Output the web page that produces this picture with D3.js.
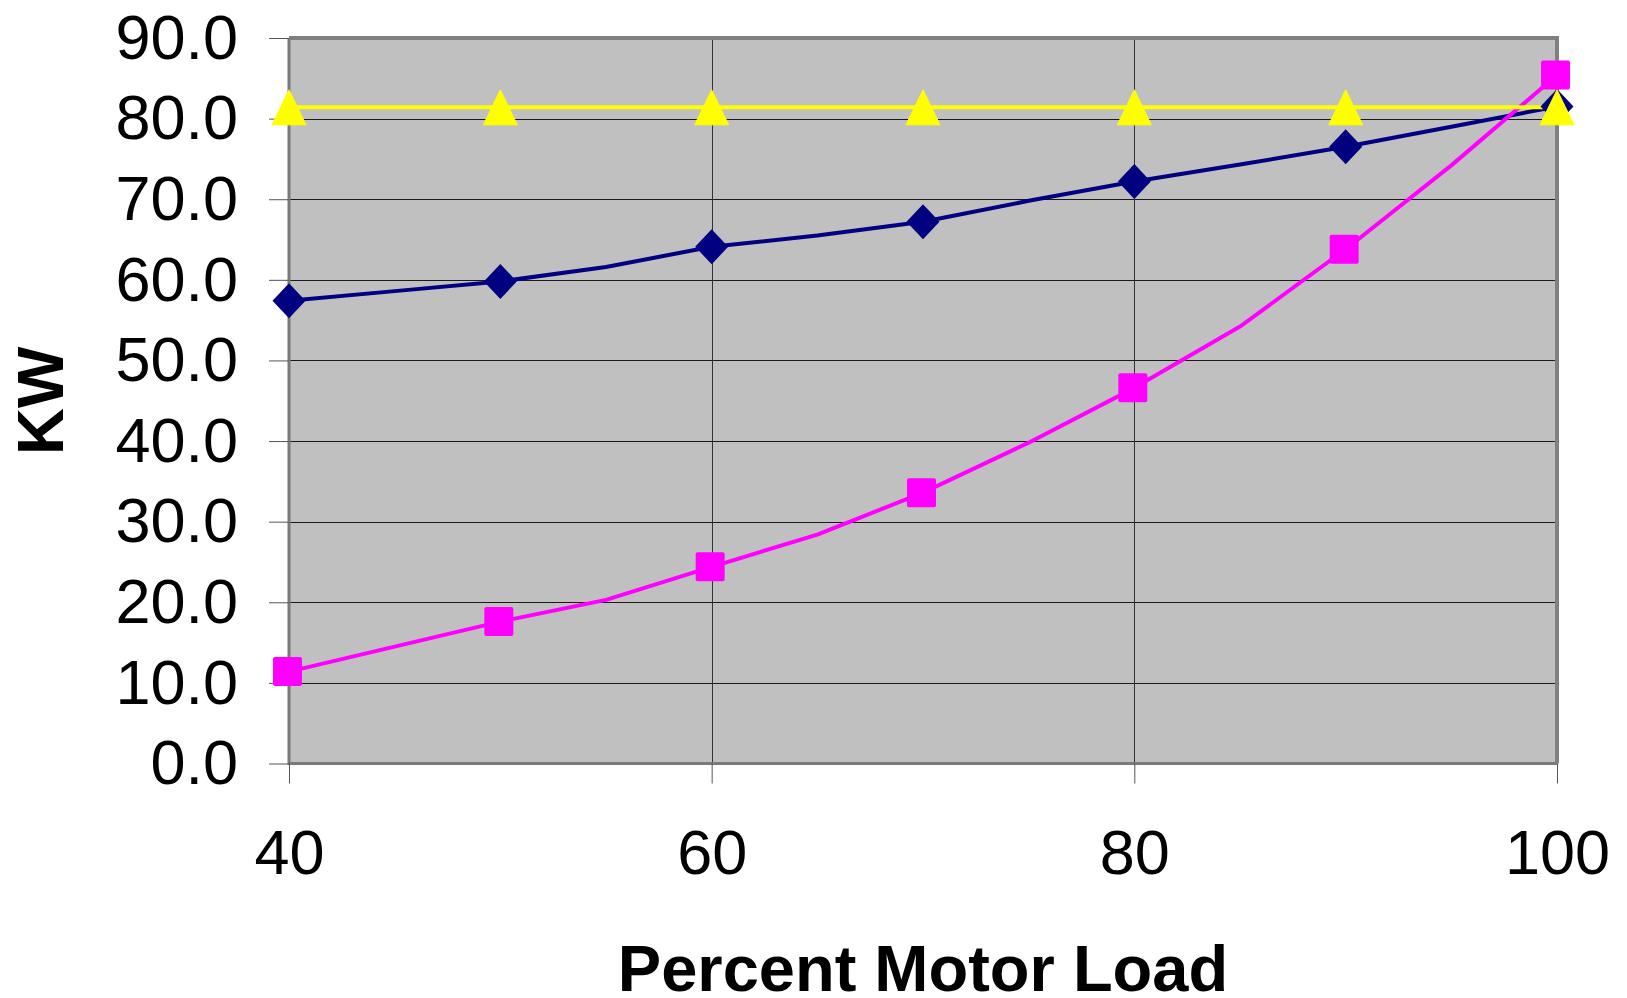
<!DOCTYPE html>
<meta charset="utf-8">
<head>
<title>Percent Motor Load vs KW</title>
<style>
    body { margin: 0; background: #fff; }
    text { font-family: "Liberation Sans", Arial, sans-serif; fill: #000; }
    .tick text { font-size: 63px; }
    .axis-title { font-size: 65px; font-weight: bold; }
</style>
</head>
<body>
<svg width="1627" height="998"></svg>

<script src="https://cdn.jsdelivr.net/npm/d3@7/dist/d3.min.js"></script>
<script>

    // data (lines have a point every 5%, markers every 10%)
    var loads = [40, 45, 50, 55, 60, 65, 70, 75, 80, 85, 90, 95, 100];
    var navySeries = [57.4, 58.6, 59.8, 61.6, 64.1, 65.5, 67.2, 69.8, 72.2, 74.3, 76.5, 79.0, 81.5];
    var magentaSeries = [11.4, 14.5, 17.6, 20.3, 24.4, 28.4, 33.6, 39.8, 46.6, 54.2, 63.8, 74.2, 85.4];
    var yellowSeries = [81.4, 81.4, 81.4, 81.4, 81.4, 81.4, 81.4, 81.4, 81.4, 81.4, 81.4, 81.4, 81.4];

    var xTicks = [40, 60, 80, 100];
    var yTicks = [0, 10, 20, 30, 40, 50, 60, 70, 80, 90];

    // note: "top" is taken by window.top, so plot bounds get a prefix
    var svg = d3.select("svg"),
        plotLeft = 289, plotRight = 1557, plotTop = 38, plotBottom = 763.5;

    var x = d3.scaleLinear().domain([40, 100]).range([plotLeft, plotRight]);
    var y = d3.scaleLinear().domain([0, 90]).range([plotBottom, plotTop]);

    // plot area
    svg.append("rect")
        .attr("x", plotLeft).attr("y", plotTop)
        .attr("width", plotRight - plotLeft).attr("height", plotBottom - plotTop)
        .attr("fill", "#c0c0c0");

    // gridlines
    svg.append("g").selectAll("line")
        .data(yTicks.filter(function(d) { return d > 0 && d < 90; }))
        .join("line")
        .attr("x1", plotLeft).attr("x2", plotRight)
        .attr("y1", function(d) { return Math.round(y(d)) + 0.5; })
        .attr("y2", function(d) { return Math.round(y(d)) + 0.5; })
        .attr("stroke", "#1a1a1a").attr("stroke-width", 1);

    svg.append("g").selectAll("line")
        .data([60, 80])
        .join("line")
        .attr("y1", plotTop).attr("y2", plotBottom)
        .attr("x1", function(d) { return Math.round(x(d)) + 0.5; })
        .attr("x2", function(d) { return Math.round(x(d)) + 0.5; })
        .attr("stroke", "#333").attr("stroke-width", 1);

    // border: thicker gray on top and right
    svg.append("path")
        .attr("d", "M" + plotLeft + "," + plotTop + "H" + plotRight + "V" + plotBottom)
        .attr("fill", "none").attr("stroke", "#808080").attr("stroke-width", 4);
    svg.append("path")
        .attr("d", "M" + plotLeft + "," + plotTop + "V" + plotBottom + "H" + plotRight)
        .attr("fill", "none").attr("stroke", "#7a7a7a").attr("stroke-width", 3);

    // axes
    var yAxis = svg.append("g")
        .attr("transform", "translate(" + plotLeft + ",0)")
        .call(d3.axisLeft(y).tickValues(yTicks).tickSize(20).tickPadding(31)
            .tickFormat(d3.format(".1f")));
    yAxis.select(".domain").remove();
    yAxis.selectAll(".tick line").attr("stroke", "#555");

    var xAxis = svg.append("g")
        .attr("transform", "translate(0," + plotBottom + ")")
        .call(d3.axisBottom(x).tickValues(xTicks).tickSize(20).tickPadding(46));
    xAxis.select(".domain").remove();
    xAxis.selectAll(".tick line").attr("stroke", "#555");
    svg.selectAll(".tick text").attr("fill", "#000");
    svg.selectAll(".axis-g").attr("font-family", null);
    yAxis.attr("font-family", null).attr("font-size", null);
    xAxis.attr("font-family", null).attr("font-size", null);

    // lines
    function series(values) {
        return values.map(function(v, i) { return { x: loads[i], y: v }; });
    }
    var line = d3.line()
        .x(function(d) { return x(d.x); })
        .y(function(d) { return y(d.y); });

    var lines = [
        { values: navySeries, color: "#000080" },
        { values: magentaSeries, color: "#ff00ff" },
        { values: yellowSeries, color: "#ffff00" }
    ];

    svg.append("g").selectAll("path")
        .data(lines)
        .join("path")
        .attr("d", function(d) { return line(series(d.values)); })
        .attr("fill", "none")
        .attr("stroke", function(d) { return d.color; })
        .attr("stroke-width", 4)
        .attr("stroke-linejoin", "round");

    // markers only at every 10%
    function onTens(values) {
        return series(values).filter(function(d) { return d.x % 10 === 0; });
    }

    svg.append("g").selectAll("path")
        .data(onTens(navySeries))
        .join("path")
        .attr("d", function(d) {
            var cx = x(d.x), cy = y(d.y);
            return "M" + cx + "," + (cy - 17.5) + "L" + (cx + 16.5) + "," + cy +
                "L" + cx + "," + (cy + 17.5) + "L" + (cx - 16.5) + "," + cy + "Z";
        })
        .attr("fill", "#000080");

    svg.append("g").selectAll("rect")
        .data(onTens(magentaSeries))
        .join("rect")
        .attr("x", function(d) { return x(d.x) - 16; })
        .attr("y", function(d) { return y(d.y) - 14.5; })
        .attr("width", 29).attr("height", 29)
        .attr("rx", 2)
        .attr("fill", "#ff00ff");

    svg.append("g").selectAll("path")
        .data(onTens(yellowSeries))
        .join("path")
        .attr("d", function(d) {
            var cx = x(d.x), cy = y(d.y);
            return "M" + cx + "," + (cy - 17.5) + "L" + (cx + 17) + "," + (cy + 17.5) +
                "L" + (cx - 17) + "," + (cy + 17.5) + "Z";
        })
        .attr("fill", "#ffff00")
        .attr("stroke", "#ffff00").attr("stroke-width", 1).attr("stroke-linejoin", "round");

    // axis titles
    svg.append("text")
        .attr("class", "axis-title")
        .attr("x", (plotLeft + plotRight) / 2).attr("y", 991)
        .attr("text-anchor", "middle")
        .text("Percent Motor Load");

    svg.append("text")
        .attr("class", "axis-title")
        .attr("transform", "translate(63," + ((plotTop + plotBottom) / 2) + ") rotate(-90)")
        .attr("text-anchor", "middle")
        .text("KW");

</script>
</body>
